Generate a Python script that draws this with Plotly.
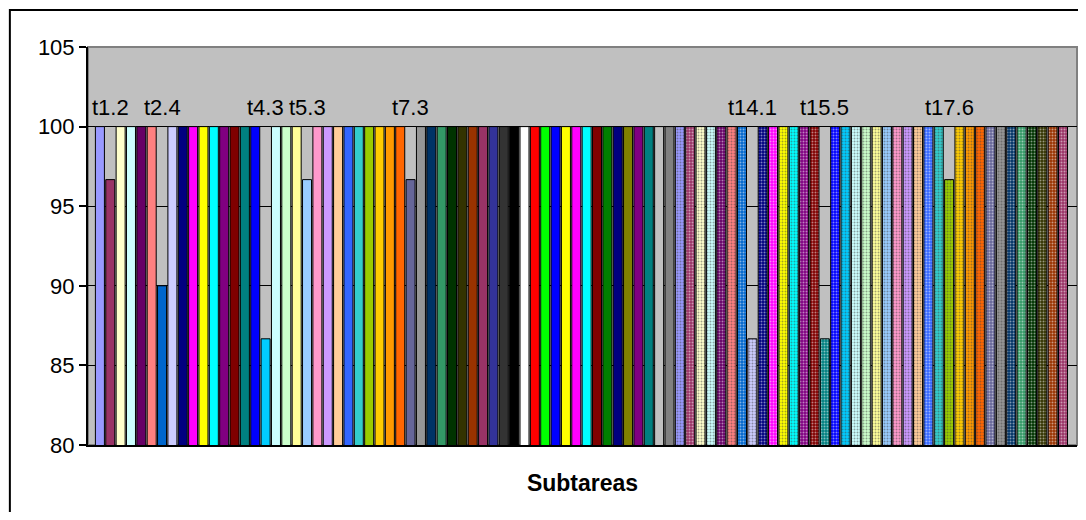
import plotly.graph_objects as go

# Porcentaje de cumplimiento por subtarea (94 subtareas)
valores = [
    100, 96.67, 100, 100, 100, 100, 90, 100, 100, 100,
    100, 100, 100, 100, 100, 100, 86.67, 100, 100, 100,
    96.67, 100, 100, 100, 100, 100, 100, 100, 100, 100,
    96.67, 100, 100, 100, 100, 100, 100, 100, 100, 100,
    100, 100, 100, 100, 100, 100, 100, 100, 100, 100,
    100, 100, 100, 100, 100, 100, 100, 100, 100, 100,
    100, 100, 100, 86.67, 100, 100, 100, 100, 100, 100,
    86.67, 100, 100, 100, 100, 100, 100, 100, 100, 100,
    100, 100, 96.67, 100, 100, 100, 100, 100, 100, 100,
    100, 100, 100, 100,
]

# Etiquetas que se muestran (solo subtareas por debajo de 100)
etiquetas = {1: "t1.2", 6: "t2.4", 16: "t4.3", 20: "t5.3", 30: "t7.3",
             63: "t14.1", 70: "t15.5", 82: "t17.6"}

# Paleta de Excel, en el orden de las series
colores_solidos = [
    "#9999FF", "#993366", "#FFFFCC", "#CCFFFF", "#660066", "#FF8080", "#0066CC", "#CCCCFF",
    "#000080", "#FF00FF", "#FFFF00", "#00FFFF", "#800080", "#800000", "#008080", "#0000FF",
    "#00CCFF", "#CCFFFF", "#CCFFCC", "#FFFF99", "#99CCFF", "#FF99CC", "#CC99FF", "#FFCC99",
    "#3366FF", "#33CCCC", "#99CC00", "#FFCC00", "#FF9900", "#FF6600", "#666699", "#969696",
    "#003366", "#339966", "#003300", "#333300", "#993300", "#993366", "#333399", "#333333",
    "#000000", "#FFFFFF", "#FF0000", "#00FF00", "#0000FF", "#FFFF00", "#FF00FF", "#00FFFF",
    "#800000", "#008000", "#000080", "#808000", "#800080", "#008080", "#C0C0C0", "#808080",
]
colores_trama = [
    "#9999FF", "#993366", "#FFFFCC", "#CCFFFF", "#660066", "#FF8080", "#0066CC", "#CCCCFF",
    "#000080", "#FF00FF", "#FFFF00", "#00FFFF", "#800080", "#800000", "#008080", "#0000FF",
    "#00CCFF", "#CCFFFF", "#CCFFCC", "#FFFF99", "#99CCFF", "#FF99CC", "#CC99FF", "#FFCC99",
    "#3366FF", "#33CCCC", "#99CC00", "#FFCC00", "#FF9900", "#FF6600", "#666699", "#969696",
    "#003366", "#339966", "#003300", "#333300", "#993300", "#993366",
]

colores = colores_solidos + colores_trama
tramas = [""] * len(colores_solidos) + ["."] * len(colores_trama)
x = list(range(len(valores)))

FONT = "Arial, Liberation Sans, sans-serif"

fig = go.Figure(
    go.Bar(
        x=x,
        y=valores,
        marker=dict(
            color=colores,
            line=dict(color="black", width=1),
            pattern=dict(shape=tramas, fillmode="overlay", fgcolor="white",
                         size=3, solidity=0.35),
        ),
        hovertext=[etiquetas.get(i, "") for i in x],
    )
)

for i, txt in etiquetas.items():
    fig.add_annotation(x=i, y=100, text=txt, showarrow=False, yanchor="bottom",
                       yshift=5, font=dict(family=FONT, size=22, color="black"))

# borde del área de trazado (gris) y del gráfico (negro)
fig.add_shape(type="rect", xref="paper", yref="paper", x0=0, x1=1, y0=0, y1=1,
              line=dict(color="#808080", width=2), layer="below")
fig.add_shape(type="rect", xref="paper", yref="paper", x0=-0.079, x1=1.2, y0=-0.5, y1=1.093,
              line=dict(color="black", width=2))

# la página añade 8 px de margen, por eso la figura es algo más pequeña
fig.update_layout(
    width=1078,
    height=504,
    margin=dict(l=80, r=9, t=39, b=67),
    paper_bgcolor="white",
    plot_bgcolor="#C0C0C0",
    bargap=0.13,
    showlegend=False,
    font=dict(family=FONT, size=22, color="black"),
    xaxis=dict(
        range=[-1.15, 94.35],
        showticklabels=False,
        ticks="",
        showgrid=False,
        zeroline=False,
        showline=True,
        linecolor="black",
        linewidth=2,
        title=dict(text="<b>Subtareas</b>", standoff=29,
                   font=dict(family=FONT, size=23, color="black")),
    ),
    yaxis=dict(
        range=[80, 105],
        dtick=5,
        ticks="outside",
        ticklen=7,
        tickwidth=1.5,
        tickcolor="black",
        showgrid=True,
        gridcolor="black",
        gridwidth=1,
        zeroline=False,
        showline=True,
        linecolor="black",
        linewidth=2,
        tickfont=dict(family=FONT, size=22, color="black"),
    ),
)

fig.write_html("out.html")
